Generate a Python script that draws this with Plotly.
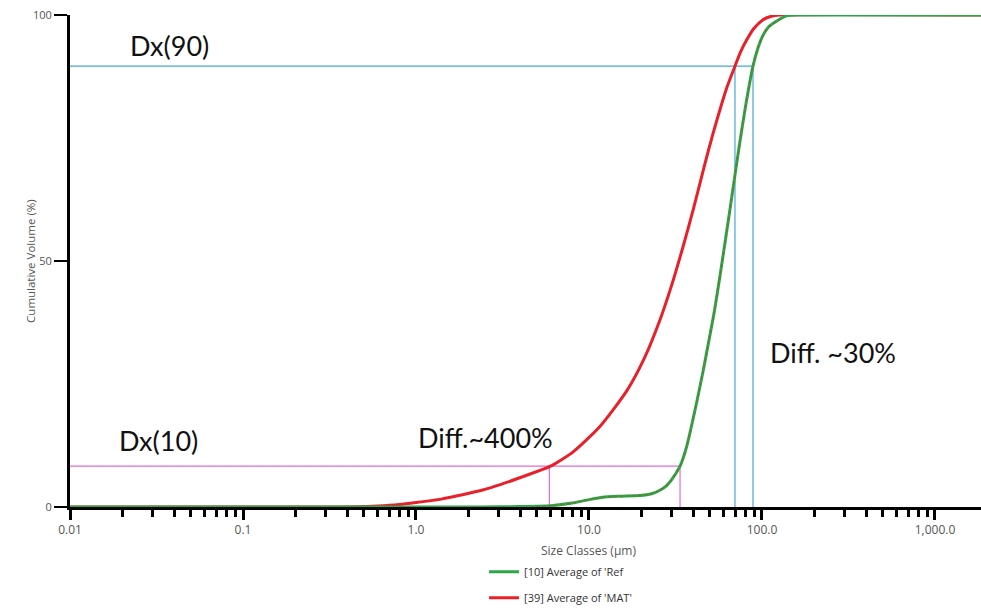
import math
import plotly.graph_objects as go

# ---- data ----
ref_size = [0.01, 2.0, 3.0, 4.0, 5.0, 6.0, 8.0, 10.0, 12.0, 15.0, 19.7, 23.0, 25.7, 28.0, 30.0,
            33.6, 35.0, 37.0, 42.0, 45.6, 50.0, 53.0, 57.2, 65.0, 72.6, 79.8, 88.7, 95.0,
            101.0, 110.0, 122.0, 132.0, 140.0, 160.0, 1850.0]
ref_cum = [0.0, 0.0, 0.03, 0.08, 0.15, 0.25, 0.8, 1.5, 2.0, 2.2, 2.35, 2.7, 3.4, 4.3, 5.5,
           8.3, 9.9, 12.8, 21.4, 27.5, 34.9, 39.7, 47.0, 60.0, 71.6, 80.8, 89.6, 93.4,
           95.75, 97.7, 98.8, 99.5, 99.9, 100.0, 100.0]

mat_size = [0.01, 0.3, 0.45, 0.6, 0.8, 1.0, 1.4, 1.8, 2.4, 3.1, 4.4, 6.0, 8.1, 11.6, 16.6,
            21.0, 25.7, 30.0, 34.9, 40.0, 43.8, 46.9, 52.0, 57.2, 63.0, 69.8, 75.0, 81.8,
            90.0, 101.0, 112.0, 127.0, 1850.0]
mat_cum = [0.0, 0.0, 0.05, 0.2, 0.5, 0.9, 1.6, 2.4, 3.4, 4.6, 6.5, 8.3, 11.2, 16.4, 23.7,
           30.4, 38.0, 45.0, 52.8, 60.4, 65.8, 69.9, 75.8, 80.8, 85.5, 89.6, 92.4, 95.0,
           97.3, 99.0, 99.7, 100.0, 100.0]

# Dx markers
dx90_level = 89.6
dx90_mat = 69.8
dx90_ref = 88.7
dx10_level = 8.3
dx10_mat = 5.9
dx10_ref = 33.6
guide_start = 0.0043  # guide lines start left of the y axis

tick_vals = [0.01, 0.1, 1, 10, 100, 1000]
tick_text = ["0.01", "0.1", "1.0", "10.0", "100.0", "1,000.0"]
minor_mult = [2, 3, 4, 5, 6, 7, 8, 9]
y_ticks = [0, 50, 100]

labels = [("Dx(90)", 0.0637, 0.939), ("Dx(10)", 0.0516, 0.136),
          ("Diff.~400%", 0.3798, 0.142), ("Diff. ~30%", 0.766, 0.315)]

BLUE = "#46a9d0"
PINK = "#e06ad6"
GREEN = "#2aa845"
RED = "#e8202a"

fig = go.Figure()

# guide lines
fig.add_trace(go.Scatter(x=[guide_start, dx90_ref], y=[dx90_level, dx90_level], mode="lines",
                         line=dict(color=BLUE, width=1.2), showlegend=False, cliponaxis=False,
                         hoverinfo="skip"))
for v in (dx90_mat, dx90_ref):
    fig.add_trace(go.Scatter(x=[v, v], y=[0, dx90_level], mode="lines",
                             line=dict(color=BLUE, width=1.2), showlegend=False, cliponaxis=False,
                             hoverinfo="skip"))
fig.add_trace(go.Scatter(x=[guide_start, dx10_ref], y=[dx10_level, dx10_level], mode="lines",
                         line=dict(color=PINK, width=1.2), showlegend=False, cliponaxis=False,
                         hoverinfo="skip"))
for v in (dx10_mat, dx10_ref):
    fig.add_trace(go.Scatter(x=[v, v], y=[0, dx10_level], mode="lines",
                             line=dict(color=PINK, width=1.2), showlegend=False, cliponaxis=False,
                             hoverinfo="skip"))

# curves
fig.add_trace(go.Scatter(x=mat_size, y=mat_cum, mode="lines", name="[39] Average of 'MAT'",
                         line=dict(color=RED, width=3, shape="spline", smoothing=0.6),
                         cliponaxis=False, legendgroup="b", legendrank=2))
fig.add_trace(go.Scatter(x=ref_size, y=ref_cum, mode="lines", name="[10] Average of 'Ref",
                         line=dict(color=GREEN, width=3, shape="spline", smoothing=0.6),
                         cliponaxis=False, legendgroup="a", legendrank=1))
# overlapping red speckle on the ref curve (same data, middle section)
mid = [(s, c) for s, c in zip(ref_size, ref_cum) if 5 <= s <= 135]
fig.add_trace(go.Scatter(x=[m[0] for m in mid], y=[m[1] for m in mid], mode="lines",
                         line=dict(color=RED, width=1.2, dash="dot", shape="spline", smoothing=0.6),
                         opacity=0.5, showlegend=False, cliponaxis=False, hoverinfo="skip"))

for text, px, py in labels:
    fig.add_annotation(text=text, x=px, y=py, xref="paper", yref="paper", xanchor="left",
                       yanchor="middle", showarrow=False,
                       font=dict(family="Lato", size=27, color="#111111"))

fig.add_annotation(text="Size Classes (µm)", x=math.log10(10), y=-0.088, xref="x", yref="paper",
                   xanchor="center", yanchor="middle", showarrow=False,
                   font=dict(family="Open Sans", size=12, color="#555555"))
fig.add_annotation(text="Cumulative Volume (%)", x=-0.044, y=0.5, xref="paper", yref="paper",
                   xanchor="center", yanchor="middle", textangle=-90, showarrow=False,
                   font=dict(family="Open Sans", size=11.5, color="#555555"))

minor_vals = [m * t for t in tick_vals[:-1] for m in minor_mult] + [m * 1000 for m in minor_mult]

fig.update_xaxes(type="log", range=[-2, 3.266], tickvals=tick_vals, ticktext=tick_text,
                 automargin=False,
                 showgrid=False, zeroline=False, showline=True, linecolor="black", linewidth=3,
                 ticks="outside", ticklen=10, tickwidth=3, tickcolor="black",
                 tickfont=dict(family="Open Sans", size=12, color="#555555"),
                 minor=dict(tickvals=minor_vals, ticks="outside", ticklen=7, tickwidth=2.5,
                            tickcolor="black", showgrid=False))
fig.update_yaxes(range=[0, 100], tickvals=y_ticks, showgrid=False, zeroline=False,
                 automargin=False,
                 showline=True, linecolor="black", linewidth=3, ticks="outside", ticklen=13,
                 tickwidth=2, tickcolor="black",
                 tickfont=dict(family="Open Sans", size=11, color="#555555"))

fig.update_layout(width=981, height=608, margin=dict(l=70, r=0, t=15, b=101, autoexpand=False),
                  plot_bgcolor="white", paper_bgcolor="white", showlegend=True,
                  legend=dict(x=0.4545, y=-0.102, xanchor="left", yanchor="top",
                              tracegroupgap=7, itemwidth=30,
                              font=dict(family="Open Sans", size=11, color="#333333")))

fig.write_html("out.html", config={"displayModeBar": False},
               post_script="document.body.style.margin='0';document.body.style.overflow='hidden';")
